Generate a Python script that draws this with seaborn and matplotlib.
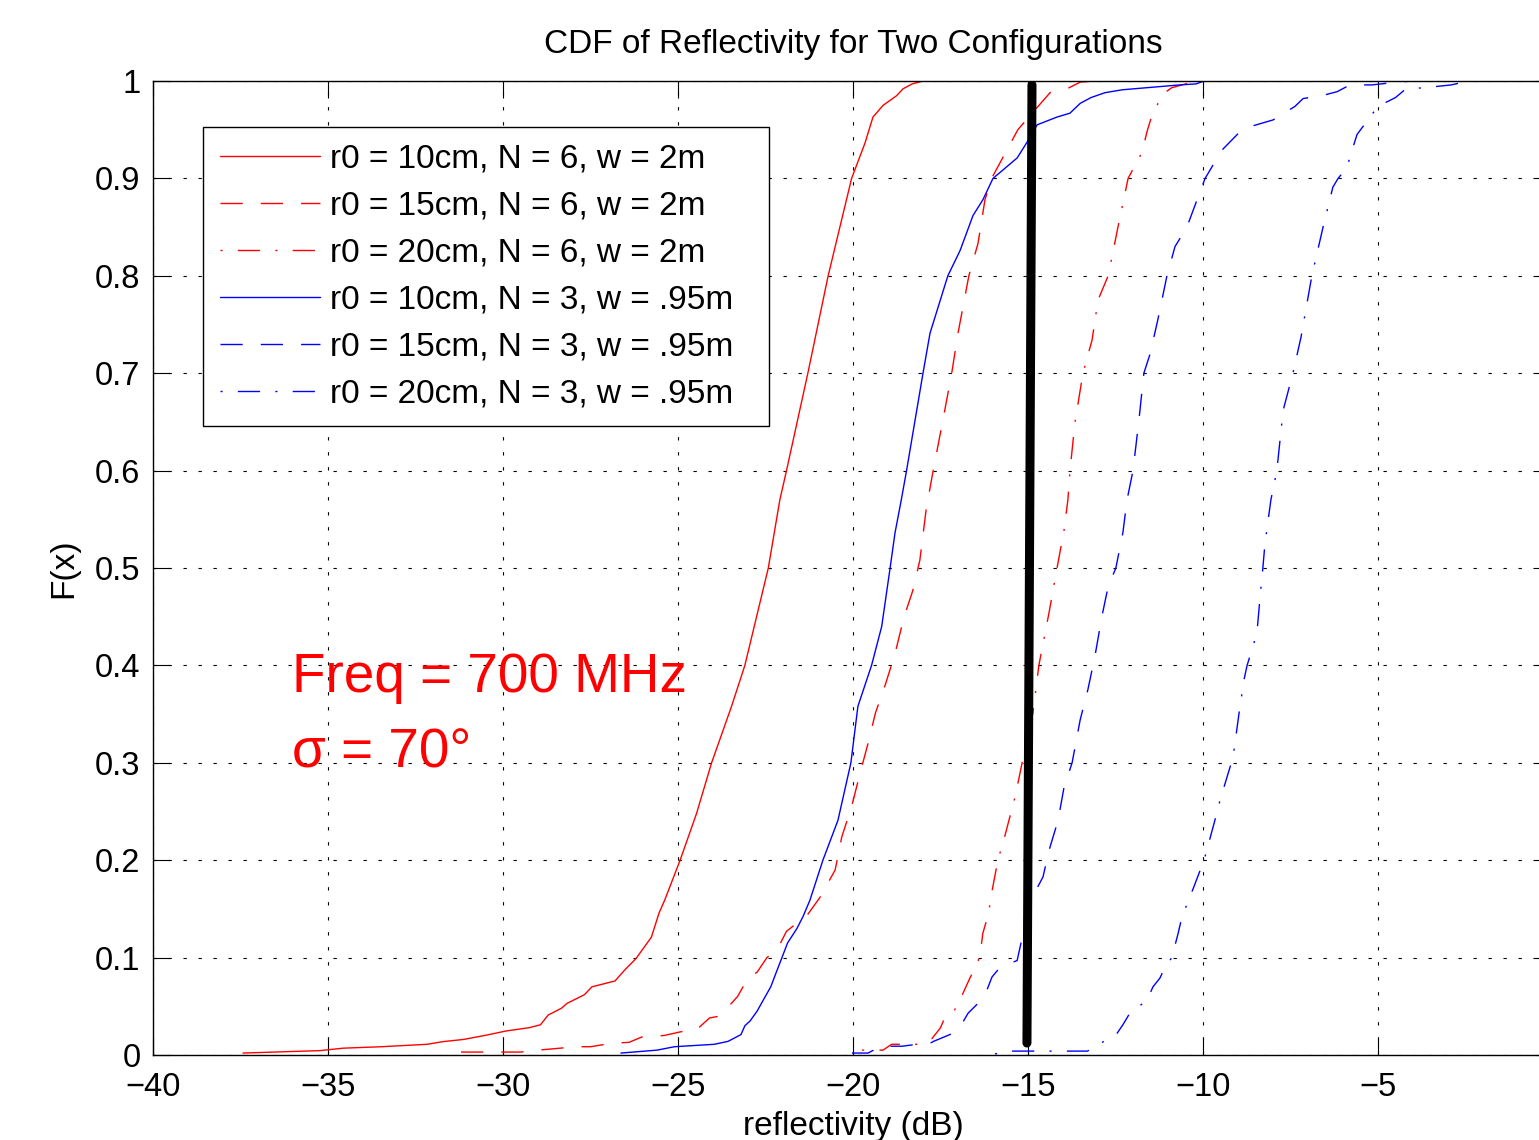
import pandas as pd
import seaborn as sns
import matplotlib
matplotlib.use('Agg')
import matplotlib.pyplot as plt
import matplotlib.font_manager as fm

# legend labels, in drawing order
LABELS = [
    "r0 = 10cm, N = 6, w = 2m",
    "r0 = 15cm, N = 6, w = 2m",
    "r0 = 20cm, N = 6, w = 2m",
    "r0 = 10cm, N = 3, w = .95m",
    "r0 = 15cm, N = 3, w = .95m",
    "r0 = 20cm, N = 3, w = .95m",
]

r10_n6_x = [-37.43, -35.23, -34.57, -33.47, -32.16, -31.72, -31.12, -30.46, -29.92, -29.26,
            -28.93, -28.71, -28.33, -28.17, -27.67, -27.46, -26.8, -26.53, -26.2, -25.76,
            -25.54, -25.38, -24.94, -24.47, -24.04, -23.47, -23.09, -22.42, -22.09, -21.9,
            -21.29, -20.71, -20.04, -19.66, -19.43, -19.14, -18.75, -18.57, -18.31, -18.0, -14.7]
r10_n6_f = [0.002, 0.0045, 0.007, 0.0085, 0.011, 0.0137, 0.016, 0.0205, 0.0246, 0.028,
            0.031, 0.041, 0.048, 0.053, 0.062, 0.070, 0.076, 0.087, 0.099, 0.121,
            0.146, 0.159, 0.2, 0.248, 0.3, 0.358, 0.4, 0.5, 0.57, 0.6,
            0.7, 0.8, 0.9, 0.936, 0.963, 0.975, 0.985, 0.992, 0.997, 1.0, 1.0]

r15_n6_x = [-31.2, -29.5, -29.0, -27.9, -27.5, -26.9, -26.4, -26.0, -25.4, -24.9,
            -24.5, -24.1, -23.8, -23.3, -23.0, -22.74, -22.46, -22.17, -21.9, -21.3,
            -21.0, -20.94, -20.51, -20.32, -20.04, -19.8, -19.57, -19.36, -19.07, -18.8,
            -18.54, -18.29, -18.09, -17.91, -17.71, -17.43, -17.18, -17.0, -16.69, -16.43,
            -16.23, -16.04, -15.71, -15.29, -14.71, -14.37, -13.94, -13.5, -13.0]
r15_n6_f = [0.003, 0.003, 0.005, 0.0085, 0.0085, 0.012, 0.013, 0.019, 0.02, 0.024,
            0.025, 0.038, 0.04, 0.06, 0.079, 0.085, 0.10, 0.108, 0.127, 0.144,
            0.159, 0.162, 0.19, 0.224, 0.255, 0.289, 0.32, 0.351, 0.381, 0.412,
            0.45, 0.477, 0.508, 0.56, 0.6, 0.652, 0.7, 0.741, 0.8, 0.833,
            0.878, 0.9, 0.922, 0.95, 0.974, 0.988, 0.991, 0.999, 1.0]

r20_n6_x = [-19.74, -19.14, -18.9, -18.17, -17.74, -17.5, -17.37, -17.1, -16.9, -16.66,
            -16.43, -16.34, -16.29, -16.13, -16.04, -15.86, -15.66, -15.37, -15.15, -14.86,
            -14.69, -14.4, -14.17, -13.97, -13.86, -13.8, -13.66, -13.43, -13.17, -13.0,
            -12.71, -12.43, -12.14, -11.74, -11.6, -11.43, -11.31, -11.2, -10.9, -10.6, -10.17]
r20_n6_f = [0.005, 0.005, 0.011, 0.011, 0.017, 0.028, 0.039, 0.046, 0.06, 0.079,
            0.095, 0.111, 0.125, 0.145, 0.166, 0.2, 0.225, 0.265, 0.303, 0.351,
            0.4, 0.454, 0.5, 0.539, 0.57, 0.6, 0.649, 0.7, 0.734, 0.775,
            0.8, 0.85, 0.9, 0.927, 0.948, 0.968, 0.975, 0.985, 0.993, 0.996, 1.0]

r10_n3_x = [-26.63, -25.6, -25.1, -23.96, -23.57, -23.41, -23.2, -23.09, -22.94, -22.74,
            -22.57, -22.35, -22.17, -22.03, -21.87, -21.6, -21.43, -21.23, -20.86, -20.43,
            -20.06, -19.86, -19.47, -19.18, -18.94, -18.8, -18.62, -18.47, -18.0, -17.8,
            -17.29, -16.94, -16.57, -16.29, -16.0, -15.31, -15.03, -14.74, -14.17, -13.8,
            -13.51, -13.2, -12.8, -12.3, -10.66, -10.2, -9.97, -6.7]
r10_n3_f = [0.002, 0.005, 0.0085, 0.011, 0.014, 0.017, 0.021, 0.030, 0.035, 0.045,
            0.056, 0.07, 0.087, 0.10, 0.115, 0.13, 0.142, 0.159, 0.2, 0.241,
            0.3, 0.358, 0.4, 0.44, 0.5, 0.536, 0.57, 0.6, 0.7, 0.741,
            0.8, 0.826, 0.862, 0.878, 0.9, 0.921, 0.937, 0.955, 0.963, 0.967,
            0.977, 0.983, 0.988, 0.991, 0.996, 0.997, 1.0, 1.0]

r15_n3_x = [-20.03, -19.57, -19.2, -18.6, -18.17, -17.8, -17.7, -17.23, -16.94, -16.71,
            -16.43, -16.17, -16.03, -15.8, -15.31, -15.17, -14.89, -14.57, -14.4, -14.14,
            -13.97, -13.74, -13.51, -13.29, -13.09, -12.89, -12.71, -12.49, -12.29, -12.17,
            -12.0, -11.83, -11.69, -11.51, -11.29, -11.03, -10.8, -10.46, -10.17, -9.94,
            -9.46, -8.86, -8.0, -7.37, -7.14, -6.6, -6.17, -5.8, -5.17, -4.66, -4.03]
r15_n3_f = [0.002, 0.002, 0.009, 0.009, 0.011, 0.012, 0.014, 0.021, 0.029, 0.043,
            0.053, 0.067, 0.08, 0.09, 0.097, 0.12, 0.161, 0.183, 0.21, 0.241,
            0.275, 0.3, 0.344, 0.375, 0.409, 0.45, 0.481, 0.5, 0.536, 0.57,
            0.6, 0.652, 0.7, 0.72, 0.755, 0.8, 0.83, 0.85, 0.878, 0.9,
            0.929, 0.951, 0.96, 0.974, 0.982, 0.985, 0.989, 0.996, 0.996, 0.998, 1.0]

r20_n3_x = [-15.94, -15.66, -13.3, -13.0, -12.71, -12.46, -12.29, -12.09, -11.83, -11.6,
            -11.43, -11.23, -11.09, -10.89, -10.71, -10.6, -10.29, -9.97, -9.66, -9.51,
            -9.14, -8.97, -8.83, -8.74, -8.46, -8.37, -8.29, -8.23, -8.06, -7.89,
            -7.71, -7.43, -7.2, -6.89, -6.57, -6.29, -6.14, -5.89, -5.74, -5.6,
            -5.29, -5.0, -4.5, -4.2, -3.7, -2.9, -2.43, -2.0]
r20_n3_f = [0.001, 0.004, 0.004, 0.01, 0.017, 0.022, 0.031, 0.043, 0.05, 0.056,
            0.07, 0.079, 0.09, 0.10, 0.125, 0.142, 0.17, 0.2, 0.241, 0.262,
            0.306, 0.351, 0.385, 0.4, 0.433, 0.47, 0.5, 0.525, 0.57, 0.6,
            0.662, 0.7, 0.737, 0.8, 0.85, 0.891, 0.9, 0.911, 0.929, 0.945,
            0.96, 0.974, 0.983, 0.992, 0.993, 0.996, 1.0, 1.0]

# thick black marker line drawn across the plot
marker_x = [-15.03, -14.886]
marker_f = [0.0123, 0.996]

SERIES_X = [r10_n6_x, r15_n6_x, r20_n6_x, r10_n3_x, r15_n3_x, r20_n3_x]
SERIES_F = [r10_n6_f, r15_n6_f, r20_n6_f, r10_n3_f, r15_n3_f, r20_n3_f]

COLORS = ["#ff0000", "#ff0000", "#ff0000", "#0000ff", "#0000ff", "#0000ff"]
DASHES = ["", (16, 13), (1.5, 11, 16, 11), "", (16, 13), (1.5, 11, 16, 11)]

sns.set_theme(style="ticks")
names = {f.name for f in fm.fontManager.ttflist}
base_font = "Liberation Sans" if "Liberation Sans" in names else "DejaVu Sans"
plt.rcParams["font.family"] = [base_font, "DejaVu Sans"]
plt.rcParams.update({
    "xtick.direction": "in", "ytick.direction": "in",
    "xtick.top": True, "ytick.right": True,
    "xtick.major.size": 12, "ytick.major.size": 12,
    "xtick.major.width": 0.8, "ytick.major.width": 0.8,
    "xtick.color": "black", "ytick.color": "black",
    "text.color": "black", "axes.labelcolor": "black",
    "axes.edgecolor": "black", "axes.linewidth": 1.0,
})

frames = []
for lab, xs, fs in zip(LABELS, SERIES_X, SERIES_F):
    frames.append(pd.DataFrame({"reflectivity": xs, "F": fs, "config": lab}))
df = pd.concat(frames, ignore_index=True)

fig = plt.figure(figsize=(15.39, 11.40), dpi=100)
# the right edge of the axes (x = 0) falls just past the picture, as in the source
ax = fig.add_axes([153 / 1539, 85 / 1140, 1400 / 1539, 974 / 1140])

sns.lineplot(data=df, x="reflectivity", y="F", hue="config", style="config",
             hue_order=LABELS, style_order=LABELS,
             palette=dict(zip(LABELS, COLORS)), dashes=dict(zip(LABELS, DASHES)),
             estimator=None, sort=False, linewidth=1.0, legend=False, ax=ax)

sns.lineplot(x=marker_x, y=marker_f, color="black", linewidth=6.5, estimator=None,
             sort=False, legend=False, ax=ax)

ax.set_xlim(-40, 0)
ax.set_ylim(0, 1)
ax.set_xticks(range(-40, 0, 5))
ax.set_yticks([i / 10 for i in range(11)])
ax.set_yticklabels([f"{i / 10:g}" for i in range(11)])
ax.tick_params(labelsize=23.5)
ax.tick_params(axis="x", pad=12)
ax.tick_params(axis="y", pad=9)
ax.grid(True, color="black", linestyle=(0, (3, 10.5)), linewidth=0.8)

ax.set_title("CDF of Reflectivity for Two Configurations", fontsize=24, pad=20)
ax.set_xlabel("reflectivity (dB)", fontsize=24, labelpad=6)
ax.set_ylabel("F(x)", fontsize=24, labelpad=11)

handles = ax.lines[:6]
leg = ax.legend(handles, LABELS, loc="upper left",
                bbox_to_anchor=(0.0357, 0.6417, 0.4043, 0.3111), mode="expand",
                borderaxespad=0, fontsize=24, handlelength=3.0, handletextpad=0.3,
                borderpad=0.5, labelspacing=0.48, fancybox=False, framealpha=1,
                edgecolor="black")
leg.get_frame().set_linewidth(1.0)

ax.text(-36.03, 0.3727, "Freq = 700 MHz", color="red", fontsize=39.5, va="baseline")
ax.text(-36.03, 0.2947, "σ = 70°", color="red", fontsize=39.5, va="baseline")

fig.savefig("out.png", dpi=100)
